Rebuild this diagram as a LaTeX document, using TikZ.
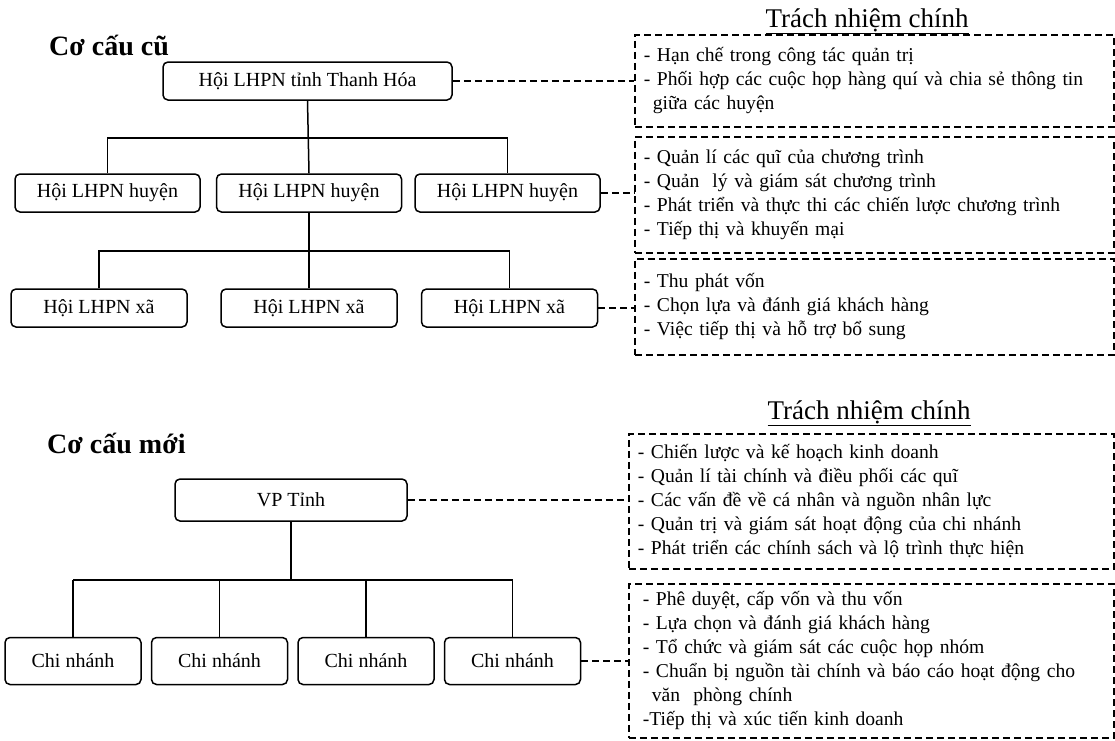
\documentclass[tikz,border=0pt]{standalone}
\usepackage{fontspec}
\setmainfont{Liberation Serif}
\usetikzlibrary{positioning}

\begin{document}
\begin{tikzpicture}[
  x=1pt, y=-1pt,
  unit/.style={draw, line width=1.5pt, rounded corners=5pt, inner sep=0pt,
    minimum height=38pt, font=\fontsize{20}{24}\selectfont},
  duty/.style={draw, dash pattern=on 7pt off 4pt, line width=1.8pt,
    align=left, inner xsep=9pt, inner ysep=0pt, anchor=north west,
    font=\fontsize{19.6}{24}\selectfont},
  link/.style={dash pattern=on 7pt off 4pt, line width=1.8pt},
  tree/.style={line width=1.5pt},
  bar/.style={line width=2.6pt},
  heading/.style={anchor=west, inner sep=0pt, font=\fontsize{28}{32}\selectfont\bfseries},
  title/.style={anchor=base, inner sep=0pt, font=\fontsize{27}{30}\selectfont}
]
  \useasboundingbox (0,0) rectangle (1115,740);

  % Co cau cu
  \node[heading] (oldhead) at (49,45) {Cơ cấu cũ};
  \node[unit, minimum width=289pt] (prov) at (307.5,81) {Hội LHPN tỉnh Thanh Hóa};
  \node[unit, minimum width=185pt] (dist1) at (107.5,193) {Hội LHPN huyện};
  \node[unit, minimum width=185pt, right=15pt of dist1] (dist2) {Hội LHPN huyện};
  \node[unit, minimum width=185pt, right=12pt of dist2] (dist3) {Hội LHPN huyện};
  \node[unit, minimum width=176pt] (comm1) at (99,308) {Hội LHPN xã};
  \node[unit, minimum width=176pt, right=32.5pt of comm1] (comm2) {Hội LHPN xã};
  \node[unit, minimum width=176pt, right=23pt of comm2] (comm3) {Hội LHPN xã};

  \coordinate (split1) at (307.5,138);
  \coordinate (split2) at (307.5,251);
  \draw[tree] (prov.south) -- (dist2.north);
  \draw[tree] (dist1.north) |- (split1) -| (dist3.north);
  \draw[tree] (dist2.south) -- (comm2.north);
  \draw[tree] (comm1.north) |- (split2) -| (comm3.north);

  \node[title] (oldtitle) at (867,27) {\underline{Trách nhiệm chính}};
  \node[duty, text width=461pt, minimum height=92pt] (dutyprov) at (634,34)
    {- Hạn chế trong công tác quản trị\\
     - Phối hợp các cuộc họp hàng quí và chia sẻ thông tin\\
     \hspace*{9pt}giữa các huyện};
  \node[duty, text width=461pt, minimum height=116pt] (dutydist) at (634,136)
    {- Quản lí các quĩ của chương trình\\
     - Quản\ \ lý và giám sát chương trình\\
     - Phát triển và thực thi các chiến lược chương trình\\
     - Tiếp thị và khuyến mại};
  \node[duty, text width=461pt, minimum height=96pt] (dutycomm) at (634,258)
    {- Thu phát vốn\\
     - Chọn lựa và đánh giá khách hàng\\
     - Việc tiếp thị và hỗ trợ bổ sung};

  \draw[link] (prov.east) -- (prov.east -| dutyprov.west);
  \draw[link] (dist3.east) -- (dist3.east -| dutydist.west);
  \draw[link] (comm3.east) -- (comm3.east -| dutycomm.west);

  % Co cau moi
  \node[heading] (newhead) at (47,443) {Cơ cấu mới};
  \node[unit, minimum width=232pt, minimum height=42pt] (office) at (291,500) {VP Tỉnh};
  \node[unit, minimum width=136pt, minimum height=47pt] (branch1) at (73,661) {Chi nhánh};
  \node[unit, minimum width=136pt, minimum height=47pt, right=9pt of branch1] (branch2) {Chi nhánh};
  \node[unit, minimum width=136pt, minimum height=47pt, right=9pt of branch2] (branch3) {Chi nhánh};
  \node[unit, minimum width=136pt, minimum height=47pt, right=9pt of branch3] (branch4) {Chi nhánh};

  \coordinate (split3) at (291,580);
  \draw[tree] (office.south) -- (split3);
  \draw[bar] (split3 -| branch1.north) -- (split3 -| branch4.north);
  \draw[tree] (branch1.north) -- (branch1.north |- split3);
  \draw[tree] (branch2.north) -- (branch2.north |- split3);
  \draw[tree] (branch3.north) -- (branch3.north |- split3);
  \draw[tree] (branch4.north) -- (branch4.north |- split3);

  \node[title] (newtitle) at (869,419) {\underline{Trách nhiệm chính}};
  \node[duty, text width=467pt, minimum height=135pt] (dutyoffice) at (628,433)
    {- Chiến lược và kế hoạch kinh doanh\\
     - Quản lí tài chính và điều phối các quĩ\\
     - Các vấn đề về cá nhân và nguồn nhân lực\\
     - Quản trị và giám sát hoạt động của chi nhánh\\
     - Phát triển các chính sách và lộ trình thực hiện};
  \node[duty, text width=457pt, inner xsep=14pt, minimum height=154pt] (dutybranch) at (628,583)
    {- Phê duyệt, cấp vốn và thu vốn\\
     - Lựa chọn và đánh giá khách hàng\\
     - Tổ chức và giám sát các cuộc họp nhóm\\
     - Chuẩn bị nguồn tài chính và báo cáo hoạt động cho\\
     \hspace*{9pt}văn\ \ phòng chính\\
     -Tiếp thị và xúc tiến kinh doanh};

  \draw[link] (office.east) -- (office.east -| dutyoffice.west);
  \draw[link] (branch4.east) -- (branch4.east -| dutybranch.west);
\end{tikzpicture}
\end{document}
